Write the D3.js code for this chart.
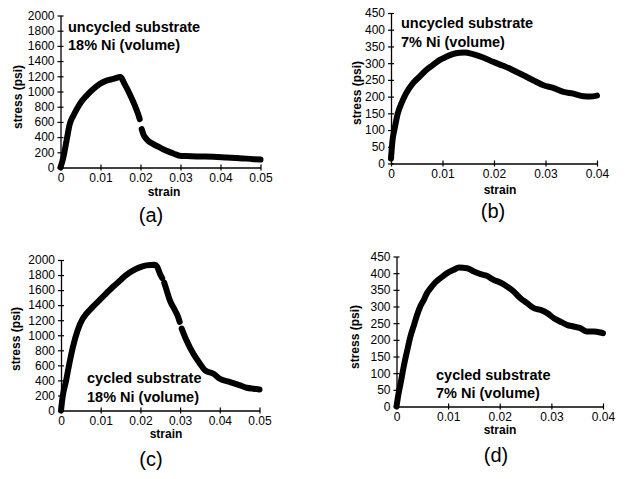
<!DOCTYPE html>
<html>
<head>
<meta charset="utf-8">
<script src="https://cdn.jsdelivr.net/npm/d3@7"></script>
<style>
  html, body { margin: 0; padding: 0; background: #fff; }
  svg { display: block; }
  text { font-family: "Liberation Sans", Arial, Helvetica, sans-serif; fill: #000; }
</style>
</head>
<body>
<svg id="chart" width="630" height="479"></svg>
<script>
// ---------- DATA ----------
// Panel (a): uncycled substrate, 18% Ni
const strainA = [0, 0.0007, 0.0015, 0.0023, 0.0032, 0.0048, 0.0065, 0.0082, 0.0098, 0.0115, 0.0132, 0.0150,
                 0.0160, 0.0173, 0.0186, 0.0194, 0.0198, 0.0200, 0.0203, 0.0207, 0.0215, 0.0232, 0.0248, 0.0265,
                 0.0282, 0.0298, 0.0315, 0.0348, 0.0382, 0.0415, 0.0448, 0.0482, 0.0500];
const stressA = [0, 130, 350, 570, 680, 835, 945, 1033, 1100, 1143, 1165, 1190,
                 1100, 967, 813, 703, 637, null, 505, 440, 374, 308, 264, 220,
                 185, 154, 150, 145, 141, 132, 123, 110, 105];

// Panel (b): uncycled substrate, 7% Ni
const strainB = [0, 0.0003, 0.00065, 0.0013, 0.0020, 0.0029, 0.0042, 0.0055, 0.0068, 0.0081, 0.0094, 0.0107,
                 0.0120, 0.0133, 0.0143, 0.0159, 0.0179, 0.0198, 0.0218, 0.0237, 0.0257, 0.0276, 0.0296,
                 0.0315, 0.0335, 0.0354, 0.0374, 0.0387, 0.0400];
const stressB = [15, 70, 100, 149, 179, 209, 239, 259, 279, 294, 309, 319,
                 327, 331, 332, 327, 317, 304, 292, 279, 264, 249, 234,
                 226, 214, 209, 201, 200, 203];

// Panel (c): cycled substrate, 18% Ni
const strainC = [0, 0.0004, 0.0013, 0.0021, 0.0030, 0.0042, 0.0055, 0.0063, 0.0080, 0.0097, 0.0114, 0.0131,
                 0.0148, 0.0164, 0.0181, 0.0198, 0.0215, 0.0236, 0.0242, 0.0249, 0.0255, 0.0257, 0.0260,
                 0.0266, 0.0274, 0.0287, 0.0295, 0.0299, 0.0301, 0.0304, 0.0316, 0.0333, 0.0350, 0.0363,
                 0.0384, 0.0400, 0.0426, 0.0451, 0.0468, 0.0485, 0.0500];
const stressC = [0, 178, 400, 622, 844, 1067, 1222, 1280, 1378, 1467, 1556, 1644,
                 1724, 1800, 1858, 1902, 1929, 1938, 1911, 1822, 1760, null, 1700,
                 1600, 1467, 1333, 1244, 1178, null, 1089, 933, 756, 622, 533,
                 489, 422, 378, 333, 302, 289, 280];

// Panel (d): cycled substrate, 7% Ni
const strainD = [0, 0.0003, 0.0008, 0.0014, 0.0021, 0.0027, 0.0034, 0.0040, 0.0046, 0.0053, 0.0059, 0.0066,
                 0.0075, 0.0085, 0.0098, 0.0111, 0.0121, 0.0137, 0.0150, 0.0163, 0.0175, 0.0188, 0.0201,
                 0.0214, 0.0227, 0.0240, 0.0253, 0.0266, 0.0279, 0.0292, 0.0305, 0.0317, 0.0330, 0.0343,
                 0.0356, 0.0369, 0.0382, 0.0395, 0.0400];
const stressD = [0, 30, 70, 120, 170, 210, 245, 275, 300, 320, 340, 355,
                 372, 385, 400, 410, 417, 415, 405, 397, 392, 380, 372,
                 360, 345, 325, 310, 295, 290, 280, 265, 255, 245, 240,
                 235, 225, 225, 222, 220];

// Tick values
const yTicks18 = [0, 200, 400, 600, 800, 1000, 1200, 1400, 1600, 1800, 2000];
const yTicks7  = [0, 50, 100, 150, 200, 250, 300, 350, 400, 450];
const xTicks05 = [0, 0.01, 0.02, 0.03, 0.04, 0.05];
const xTicks04 = [0, 0.01, 0.02, 0.03, 0.04];

// Text
const labelsA = ["uncycled substrate", "18% Ni (volume)"];
const labelsB = ["uncycled substrate", "7% Ni (volume)"];
const labelsC = ["cycled substrate", "18% Ni (volume)"];
const labelsD = ["cycled substrate", "7% Ni (volume)"];
const panelTags = ["(a)", "(b)", "(c)", "(d)"];

// ---------- LAYOUT ----------
const svg = d3.select("#chart");
const fmtX = d => d === 0 ? "0" : d3.format(".2f")(d);
const fmtY = d3.format("d");

const panels = [
  { strain: strainA, stress: stressA, yTicks: yTicks18, xTicks: xTicks05, labels: labelsA, tag: panelTags[0],
    x0: 60.5, x1: 260.5, yb: 167.5, yt: 15.5, lab: [68, 32, 18], yTitle: [18, 97], xTitle: [164, 196], tagPos: [151, 222] },
  { strain: strainB, stress: stressB, yTicks: yTicks7, xTicks: xTicks04, labels: labelsB, tag: panelTags[1],
    x0: 391, x1: 597, yb: 163.5, yt: 13, lab: [401, 28, 19], yTitle: [357, 93], xTitle: [500, 194], tagPos: [493, 218] },
  { strain: strainC, stress: stressC, yTicks: yTicks18, xTicks: xTicks05, labels: labelsC, tag: panelTags[2],
    x0: 61, x1: 259.5, yb: 410.5, yt: 260, lab: [87, 383, 19], yTitle: [16, 339], xTitle: [166, 438], tagPos: [151, 466] },
  { strain: strainD, stress: stressD, yTicks: yTicks7, xTicks: xTicks04, labels: labelsD, tag: panelTags[3],
    x0: 396.5, x1: 603, yb: 406.5, yt: 256.5, lab: [436, 380, 18], yTitle: [355, 337], xTitle: [500, 434], tagPos: [496, 462] }
];

panels.forEach(p => {
  const xMax = p.xTicks[p.xTicks.length - 1];
  const yMax = p.yTicks[p.yTicks.length - 1];
  const x = d3.scaleLinear().domain([0, xMax]).range([p.x0, p.x1]);
  const y = d3.scaleLinear().domain([0, yMax]).range([p.yb, p.yt]);
  const g = svg.append("g");

  // data curve
  const pts = p.strain.map((s, i) => ({ s, v: p.stress[i] }));
  const line = d3.line()
    .defined(d => d.v !== null)
    .x(d => x(d.s)).y(d => y(d.v))
    .curve(d3.curveMonotoneX);
  g.append("path").datum(pts)
    .attr("d", line)
    .attr("fill", "none").attr("stroke", "#000")
    .attr("stroke-width", 6).attr("stroke-linecap", "round").attr("stroke-linejoin", "round");

  // y axis
  const ya = g.append("g").attr("transform", `translate(${p.x0},0)`)
    .call(d3.axisLeft(y).tickValues(p.yTicks).tickFormat(fmtY).tickSize(3).tickSizeOuter(0).tickPadding(3));
  ya.selectAll(".tick line").attr("x1", -3).attr("x2", 3);
  // x axis
  const xa = g.append("g").attr("transform", `translate(0,${p.yb})`)
    .call(d3.axisBottom(x).tickValues(p.xTicks).tickFormat(fmtX).tickSize(3).tickSizeOuter(0).tickPadding(3));
  xa.selectAll(".tick line").attr("y1", -3).attr("y2", 3);
  [ya, xa].forEach(a => {
    a.select(".domain").attr("stroke", "#000").attr("stroke-width", 1.3);
    a.selectAll(".tick line").attr("stroke", "#000").attr("stroke-width", 1.2);
    a.selectAll(".tick text").style("font-size", "12px").style("font-family", '"Liberation Sans", Arial, sans-serif');
  });

  // axis titles
  g.append("text")
    .attr("transform", `translate(${p.yTitle[0]},${p.yTitle[1]}) rotate(-90)`)
    .attr("text-anchor", "middle").attr("dy", "0.35em")
    .style("font-size", "12px").style("font-weight", "bold")
    .text("stress (psi)");
  g.append("text")
    .attr("x", p.xTitle[0]).attr("y", p.xTitle[1])
    .attr("text-anchor", "middle")
    .style("font-size", "12px").style("font-weight", "bold")
    .text("strain");

  // annotations
  p.labels.forEach((t, i) => {
    g.append("text")
      .attr("x", p.lab[0]).attr("y", p.lab[1] + i * p.lab[2])
      .style("font-size", "14.5px").style("font-weight", "bold")
      .text(t);
  });

  // panel tag
  g.append("text")
    .attr("x", p.tagPos[0]).attr("y", p.tagPos[1])
    .attr("text-anchor", "middle")
    .style("font-size", "20px")
    .text(p.tag);
});
</script>
</body>
</html>
